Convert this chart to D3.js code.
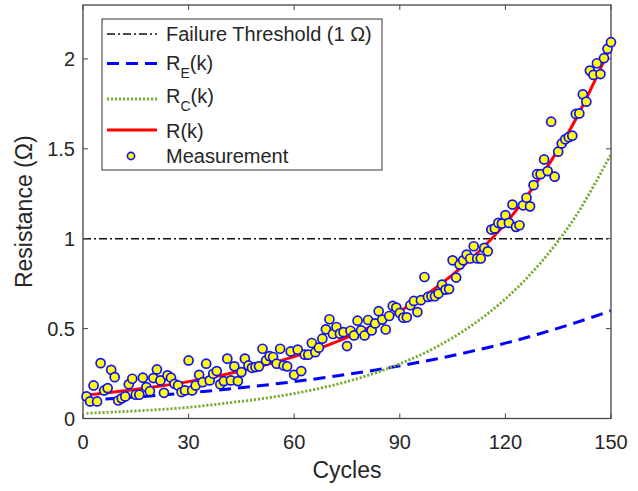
<!DOCTYPE html>
<html><head><meta charset="utf-8">
<script src="https://cdn.jsdelivr.net/npm/d3@7"></script>
<style>
body{margin:0;background:#fff}
svg{display:block}
text{font-family:"Liberation Sans",Arial,Helvetica,sans-serif;fill:#262626}
</style>
</head><body>
<svg id="chart" width="638" height="491"></svg>
<script>
// ---- data ----
const xTicks = [0, 30, 60, 90, 120, 150];
const yTicks = [0, 0.5, 1, 1.5, 2];
const yTickLabels = ["0", "0.5", "1", "1.5", "2"];
const thresholdValue = 1;

const curveCycles = [1, 10, 20, 30, 40, 50, 60, 70, 80, 90, 100, 110, 120, 130, 140, 150];
const rE = [0.101, 0.113, 0.127, 0.143, 0.161, 0.182, 0.205, 0.231, 0.260, 0.293, 0.330, 0.372, 0.419, 0.473, 0.533, 0.600];
const rC = [0.029, 0.037, 0.048, 0.062, 0.084, 0.108, 0.139, 0.180, 0.234, 0.304, 0.394, 0.512, 0.665, 0.866, 1.126, 1.470];
const rTotal = [0.130, 0.150, 0.175, 0.205, 0.243, 0.289, 0.344, 0.411, 0.494, 0.597, 0.724, 0.884, 1.084, 1.345, 1.665, 2.075];

const measValues = [
  0.123, 0.095, 0.184, 0.095, 0.308, 0.156, 0.169, 0.271, 0.230, 0.100,
  0.112, 0.123, 0.190, 0.221, 0.132, 0.132, 0.227, 0.175, 0.152, 0.225,
  0.273, 0.212, 0.143, 0.240, 0.227, 0.193, 0.184, 0.147, 0.156, 0.323,
  0.156, 0.184, 0.243, 0.202, 0.305, 0.212, 0.249, 0.264, 0.190, 0.208,
  0.333, 0.212, 0.290, 0.208, 0.258, 0.333, 0.295, 0.282, 0.286, 0.290,
  0.388, 0.323, 0.347, 0.342, 0.305, 0.388, 0.295, 0.290, 0.373, 0.243,
  0.383, 0.264, 0.355, 0.355, 0.420, 0.369, 0.394, 0.444, 0.496, 0.552,
  0.470, 0.509, 0.472, 0.480, 0.403, 0.488, 0.462, 0.544, 0.490, 0.462,
  0.548, 0.490, 0.529, 0.597, 0.550, 0.495, 0.570, 0.626, 0.617, 0.587,
  0.561, 0.563, 0.630, 0.654, 0.592, 0.658, 0.787, 0.676, 0.680, 0.680,
  0.695, 0.745, 0.717, 0.720, 0.880, 0.784, 0.856, 0.880, 0.912, 0.890,
  0.958, 0.890, 0.890, 0.949, 0.930, 1.051, 1.057, 1.088, 1.084, 1.131,
  1.088, 1.190, 1.066, 1.075, 1.186, 1.228, 1.180, 1.298, 1.359, 1.359,
  1.441, 1.376, 1.651, 1.345, 1.484, 1.530, 1.553, 1.565, 1.573, 1.694,
  1.697, 1.803, 1.762, 1.935, 1.911, 1.976, 1.916, 2.004, 2.056, 2.093
];
const measCycles = d3.range(1, measValues.length + 1);

// ---- layout ----
const svg = d3.select("#chart");
const L = 83, R = 611, T = 5, B = 418.5;
const x = d3.scaleLinear().domain([0, 150]).range([L, R]);
const y = d3.scaleLinear().domain([0, 2.3]).range([B, T]);

svg.append("rect").attr("width", 638).attr("height", 491).attr("fill", "#fff");

svg.append("defs").append("clipPath").attr("id", "clip")
  .append("rect").attr("x", L).attr("y", T).attr("width", R - L).attr("height", B - T);

const plot = svg.append("g").attr("clip-path", "url(#clip)");

// threshold
plot.append("line")
  .attr("x1", x(0)).attr("x2", x(150))
  .attr("y1", y(thresholdValue)).attr("y2", y(thresholdValue))
  .attr("stroke", "#111").attr("stroke-width", 1.4)
  .attr("stroke-dasharray", "8,3,2,3");

const line = (vals) => d3.line()
  .x((d, i) => x(curveCycles[i]))
  .y(d => y(d))
  .curve(d3.curveCatmullRom.alpha(0.5))(vals);

plot.append("path").attr("d", line(rE)).attr("fill", "none")
  .attr("stroke", "#0000ff").attr("stroke-width", 3).attr("stroke-dasharray", "12,7");
plot.append("path").attr("d", line(rC)).attr("fill", "none")
  .attr("stroke", "#77AC30").attr("stroke-width", 2.8).attr("stroke-dasharray", "2.2,1.8");
plot.append("path").attr("d", line(rTotal)).attr("fill", "none")
  .attr("stroke", "#ff0000").attr("stroke-width", 3);

// axes box & ticks
const axisColor = "#444";
svg.append("rect").attr("x", L).attr("y", T).attr("width", R - L).attr("height", B - T)
  .attr("fill", "none").attr("stroke", axisColor).attr("stroke-width", 1.3);

const tickLen = 5;
const ticksG = svg.append("g").attr("stroke", axisColor).attr("stroke-width", 1);
xTicks.forEach(t => {
  ticksG.append("line").attr("x1", x(t)).attr("x2", x(t)).attr("y1", B).attr("y2", B - tickLen);
  ticksG.append("line").attr("x1", x(t)).attr("x2", x(t)).attr("y1", T).attr("y2", T + tickLen);
});
yTicks.forEach(t => {
  ticksG.append("line").attr("x1", L).attr("x2", L + tickLen).attr("y1", y(t)).attr("y2", y(t));
  ticksG.append("line").attr("x1", R).attr("x2", R - tickLen).attr("y1", y(t)).attr("y2", y(t));
});

svg.append("g").selectAll("text").data(xTicks).join("text")
  .attr("x", d => x(d)).attr("y", 449).attr("text-anchor", "middle")
  .attr("font-size", 20).text(d => d);
svg.append("g").selectAll("text").data(yTicks).join("text")
  .attr("x", 75).attr("y", d => y(d)).attr("dy", "0.36em").attr("text-anchor", "end")
  .attr("font-size", 20).text((d, i) => yTickLabels[i]);

svg.append("text").attr("x", (L + R) / 2).attr("y", 478).attr("text-anchor", "middle")
  .attr("font-size", 23).text("Cycles");
svg.append("text").attr("transform", `translate(32,${(T + B) / 2}) rotate(-90)`)
  .attr("text-anchor", "middle").attr("font-size", 23).text("Resistance (Ω)");

// measurements
svg.append("g").selectAll("circle").data(measValues).join("circle")
  .attr("cx", (d, i) => x(measCycles[i])).attr("cy", d => y(d)).attr("r", 4.5)
  .attr("fill", "#ffff00").attr("stroke", "#1010ff").attr("stroke-width", 1.7);

// legend
const lg = svg.append("g");
lg.append("rect").attr("x", 102).attr("y", 19).attr("width", 280).attr("height", 151)
  .attr("fill", "#fff").attr("stroke", "#333").attr("stroke-width", 1);
const lx1 = 107, lx2 = 157, tx = 166;
lg.append("line").attr("x1", lx1).attr("x2", lx2).attr("y1", 34).attr("y2", 34)
  .attr("stroke", "#111").attr("stroke-width", 1.4).attr("stroke-dasharray", "8,3,2,3");
lg.append("line").attr("x1", lx1).attr("x2", lx2).attr("y1", 63.5).attr("y2", 63.5)
  .attr("stroke", "#0000ff").attr("stroke-width", 3).attr("stroke-dasharray", "12,7");
lg.append("line").attr("x1", lx1).attr("x2", lx2).attr("y1", 99).attr("y2", 99)
  .attr("stroke", "#77AC30").attr("stroke-width", 2.8).attr("stroke-dasharray", "2.2,1.8");
lg.append("line").attr("x1", lx1).attr("x2", lx2).attr("y1", 130).attr("y2", 130)
  .attr("stroke", "#ff0000").attr("stroke-width", 3);
lg.append("circle").attr("cx", 131).attr("cy", 156).attr("r", 3.6)
  .attr("fill", "#ffff00").attr("stroke", "#1010ff").attr("stroke-width", 1.6);

lg.append("text").attr("x", tx).attr("y", 41).attr("font-size", 20).text("Failure Threshold (1 Ω)");
function subText(yb, sub) {
  const t = lg.append("text").attr("x", tx).attr("y", yb).attr("font-size", 20);
  t.append("tspan").text("R");
  t.append("tspan").attr("font-size", 14).attr("dy", 8).text(sub);
  t.append("tspan").attr("dy", -8).text("(k)");
}
subText(70, "E");
subText(103, "C");
lg.append("text").attr("x", tx).attr("y", 138).attr("font-size", 20).text("R(k)");
lg.append("text").attr("x", tx).attr("y", 163).attr("font-size", 20).text("Measurement");
</script>
</body></html>
